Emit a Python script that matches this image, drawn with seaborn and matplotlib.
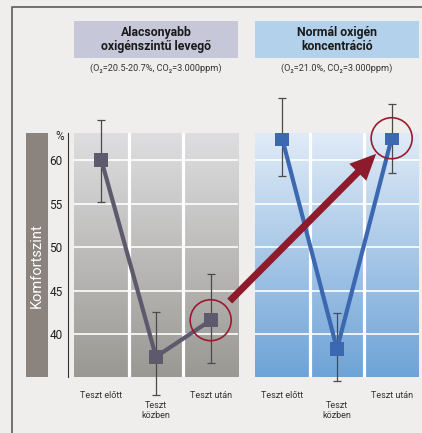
import numpy as np
import pandas as pd
import seaborn as sns
import matplotlib.pyplot as plt
from matplotlib.colors import LinearSegmentedColormap
from matplotlib.patches import Rectangle, Circle, FancyArrow

W, H = 422, 433

steps = ['Teszt előtt', 'Teszt\nközben', 'Teszt után']
yticks = [40, 45, 50, 55, 60]

# alacsonyabb oxigénszint
low_mean = [60.0, 37.4, 41.6]
low_lo = [55.2, 33.0, 36.7]
low_hi = [64.6, 42.5, 46.9]

# normál oxigén
norm_mean = [62.4, 38.3, 62.5]
norm_lo = [58.2, 34.6, 58.5]
norm_hi = [67.1, 42.4, 66.4]

titles = ['Alacsonyabb\noxigénszintű levegő', 'Normál oxigén\nkoncentráció']
subtitles = ['(O₂=20.5-20.7%, CO₂=3.000ppm)', '(O₂=21.0%, CO₂=3.000ppm)']

sns.set_style('white')
plt.rcParams['font.family'] = ['Roboto', 'DejaVu Sans']

fig = plt.figure(figsize=(W / 100, H / 100), dpi=100, facecolor='#efeeec')


def px_rect(x0, y0, x1, y1):
    return [x0 / W, 1 - y1 / H, (x1 - x0) / W, (y1 - y0) / H]


ylim = (35.08, 63.1)
panels = [
    dict(box=(74, 133, 238, 377), mean=low_mean, lo=low_lo, hi=low_hi,
         color='#5e5a6d', grad=['#dedee0', '#9a9893'], head='#c6c7d9'),
    dict(box=(255, 133, 419, 377), mean=norm_mean, lo=norm_lo, hi=norm_hi,
         color='#3b68b0', grad=['#e0ebf7', '#6ea3d7'], head='#b4d1eb'),
]

axes = []
for i, p in enumerate(panels):
    ax = fig.add_axes(px_rect(*p['box']))
    cmap = LinearSegmentedColormap.from_list('g%d' % i, p['grad'])
    ax.imshow(np.linspace(0, 1, 256).reshape(-1, 1), cmap=cmap,
              extent=(-0.5, 2.5, ylim[0], ylim[1]), aspect='auto', zorder=0)
    for y in yticks:
        ax.axhline(y, color='white', lw=1.2, zorder=1)
    for x in [0.5, 1.5]:
        ax.axvline(x, color='white', lw=2.3, zorder=1)

    mean = np.array(p['mean'])
    err = [mean - np.array(p['lo']), np.array(p['hi']) - mean]
    eb = ax.errorbar(range(3), mean, yerr=err, fmt='none', ecolor='#4a4a4a',
                     elinewidth=0.9, capsize=3, capthick=0.9, zorder=2)
    for art in list(eb.lines[1]) + list(eb.lines[2]):
        art.set_clip_on(False)

    df = pd.DataFrame({'step': steps, 'value': p['mean']})
    sns.lineplot(data=df, x='step', y='value', ax=ax, color=p['color'], lw=3,
                 marker='s', markersize=9.5, markeredgewidth=0, zorder=3, sort=False)

    ax.set_xlim(-0.5, 2.5)
    ax.set_ylim(*ylim)
    ax.set_xlabel('')
    ax.set_ylabel('')
    ax.set_xticks(range(3))
    ax.set_xticklabels(steps, fontsize=6.5, color='#333333', linespacing=1.1)
    ax.tick_params(axis='x', length=0, pad=10)
    ax.xaxis.get_major_ticks()[1].set_pad(17.5)
    for s in ax.spines.values():
        s.set_visible(False)
    if i == 0:
        ax.set_yticks(yticks)
        ax.tick_params(axis='y', length=3, width=0.8, color='#333333',
                       labelsize=8.5, labelcolor='#222222', pad=1)
        ax.spines['left'].set_visible(True)
        ax.spines['left'].set_position(('outward', 4.3))
        ax.spines['left'].set_color('#333333')
        ax.spines['left'].set_linewidth(0.8)
    else:
        ax.set_yticks([])
    axes.append(ax)

# overlay in pixel coordinates (y downwards)
ov = fig.add_axes([0, 0, 1, 1], zorder=10)
ov.set_xlim(0, W)
ov.set_ylim(H, 0)
ov.axis('off')
ov.patch.set_alpha(0)

ov.plot([12, 12, 422], [433, 7, 7], color='#666666', lw=1.3)

for p, t, st in zip(panels, titles, subtitles):
    x0, _, x1, _ = p['box']
    ov.add_patch(Rectangle((x0, 21), x1 - x0, 37, color=p['head'], lw=0))
    ov.text((x0 + x1) / 2, 39.5, t, ha='center', va='center', fontsize=8.8,
            fontweight='bold', color='#1a1a1a', linespacing=1.15)
    ov.text((x0 + x1) / 2, 68, st, ha='center', va='center', fontsize=6.6,
            color='#333333')

ov.add_patch(Rectangle((26, 133), 22, 244, color='#8b837e', lw=0))
ov.text(37, 266, 'Komfortszint', rotation=90, ha='center', va='center',
        fontsize=10.5, color='white')
ov.text(60, 137, '%', ha='center', va='center', fontsize=8.5, color='#222222')


def to_px(ax, x, y):
    dx, dy = ax.transData.transform((x, y))
    return np.array([dx, H - dy])


c_left = to_px(axes[0], 2, low_mean[2])
c_right = to_px(axes[1], 2, norm_mean[2])
for c in [c_left, c_right]:
    ov.add_patch(Circle(c, 20.5, fill=False, edgecolor='#9b1b2e', lw=1.2))

u = (c_right - c_left) / np.linalg.norm(c_right - c_left)
start = c_left + u * 27
end = c_right - u * 22
ov.add_patch(FancyArrow(start[0], start[1], *(end - start), width=7,
                        head_width=24, head_length=26, length_includes_head=True,
                        color='#8d1b2c', lw=0))

fig.savefig('out.png', dpi=100, facecolor=fig.get_facecolor())
